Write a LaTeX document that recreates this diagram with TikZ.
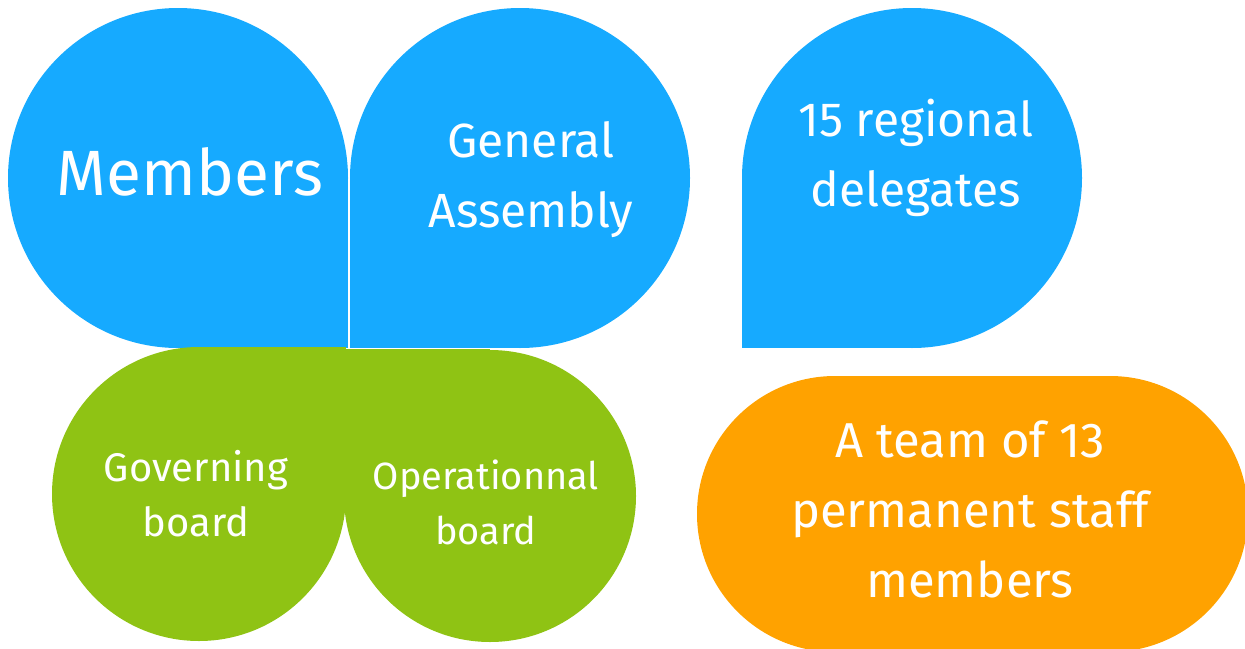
\documentclass[tikz,border=0pt]{standalone}
\usepackage{fontspec}
\setmainfont{Fira Sans}
\definecolor{skyblue}{RGB}{22,170,255}
\definecolor{leafgreen}{RGB}{143,195,20}
\definecolor{staffgold}{RGB}{255,162,0}
\usetikzlibrary{positioning}
\tikzstyle{label}=[text=white, align=center, inner sep=0pt]
\tikzstyle{big}=[font=\fontsize{64}{70}\selectfont]
\tikzstyle{mid}=[font=\fontsize{48}{70}\selectfont]
\tikzstyle{small}=[font=\fontsize{40}{55}\selectfont]

\begin{document}
\begin{tikzpicture}[x=1pt,y=-1pt]
                    \path [use as bounding box] (0,0) rectangle (1245,648);

                    % blue drops
                    \fill[skyblue] (178,178) circle [radius=170];
                    \fill[skyblue] (178,178) rectangle (348,348);
                    \fill[skyblue] (520,178) circle [radius=170];
                    \fill[skyblue] (350,178) rectangle (520,348);
                    \fill[skyblue] (912,178) circle [radius=170];
                    \fill[skyblue] (742,178) rectangle (912,348);

                    % green drops
                    \fill[leafgreen] (199,494) circle [radius=147];
                    \fill[leafgreen] (199,347) rectangle (346,494);
                    \fill[leafgreen] (490,496) circle [radius=146];
                    \fill[leafgreen] (343,349) rectangle (490,496);

                    % staff pill
                    \fill[staffgold, rounded corners=138pt] (697,376) rectangle (1248,652);

                    \node[label,big] (members) at (190,172) {Members};
                    \node[label,mid] (assembly) at (531,180) {General\\Assembly};
                    \node[label,mid] (delegates) at (916,158) {15 regional\\delegates};
                    \node[label,small] (governing) at (196,494) {Governing\\board};
                    \node[label,small,font=\fontsize{38}{55}\selectfont] (operational) at (486,502) {Operationnal\\board};
                    \node[label,mid,font=\fontsize{49}{70}\selectfont] (staff) at (970,509) {A team of 13\\permanent staff\\members};
                \end{tikzpicture}
\end{document}
